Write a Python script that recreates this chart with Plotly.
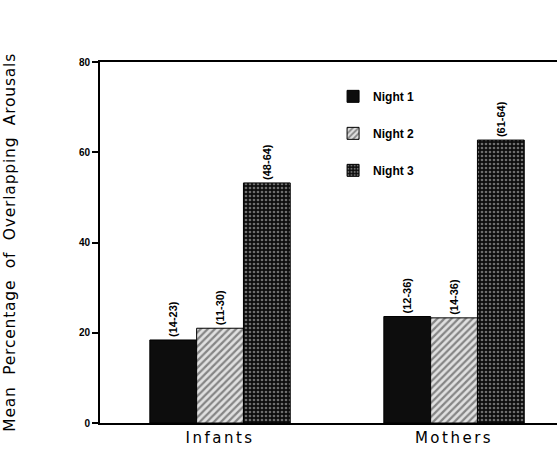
import plotly.graph_objects as go

categories = ["Infants", "Mothers"]
night1 = [18.4, 23.6]
night2 = [21.0, 23.3]
night3 = [53.2, 62.7]
range1 = ["(14-23)", "(12-36)"]
range2 = ["(11-30)", "(14-36)"]
range3 = ["(48-64)", "(61-64)"]
y_ticks = [0, 20, 40, 60, 80]

fig = go.Figure()
fig.add_trace(go.Bar(
    name="<b>Night 1</b>", x=categories, y=night1, text=range1,
    marker=dict(color="#0d0d0d", line=dict(color="black", width=1)),
    legendgroup="n1",
))
fig.add_trace(go.Bar(
    name="<b>Night 2</b>", x=categories, y=night2, text=range2,
    marker=dict(color="#d8d8d8", line=dict(color="black", width=1),
                pattern=dict(shape="/", fgcolor="#2a2a2a", bgcolor="#e0e0e0",
                             size=5, solidity=0.45)),
    legendgroup="n2",
))
fig.add_trace(go.Bar(
    name="<b>Night 3</b>", x=categories, y=night3, text=range3,
    marker=dict(color="#0d0d0d", line=dict(color="black", width=1),
                pattern=dict(shape=".", fgcolor="#cfcfcf", bgcolor="#0d0d0d",
                             size=4, solidity=0.35)),
    legendgroup="n3",
))
fig.update_traces(textposition="outside", textangle=-90, cliponaxis=False,
                  texttemplate="<b>%{text}</b>",
                  textfont=dict(family="Liberation Sans", size=11, color="black"))

fig.update_layout(
    width=557, height=461,
    margin=dict(l=100, r=0, t=62, b=38),
    paper_bgcolor="white", plot_bgcolor="white",
    barmode="group", bargap=0.4, bargroupgap=0,
    showlegend=True,
    legend=dict(x=0.51, y=0.945, xanchor="left", yanchor="top",
                bgcolor="rgba(0,0,0,0)", tracegroupgap=18,
                font=dict(family="Liberation Sans", size=12, color="black")),
    font=dict(family="Liberation Sans", color="black"),
)
fig.update_xaxes(
    range=[-0.513, 1.44], showline=True, linecolor="black", linewidth=2,
    mirror=True, ticks="", showgrid=False, zeroline=False,
    tickfont=dict(family="DejaVu Sans", size=15, color="black"),
)
fig.update_yaxes(
    range=[0, 80], tickvals=y_ticks, ticktext=[f"<b>{v}</b>" for v in y_ticks],
    showline=True, linecolor="black", linewidth=2, ticks="outside",
    ticklen=6, tickwidth=2, tickcolor="black", showgrid=False, zeroline=False,
    tickfont=dict(family="Liberation Sans", size=10, color="black"),
)
fig.add_annotation(
    text="Mean  Percentage  of  Overlapping  Arousals", textangle=-90,
    xref="paper", yref="paper", x=-0.199, y=0.5, xanchor="center", yanchor="middle",
    showarrow=False, font=dict(family="DejaVu Sans", size=15.5, color="black"),
)

post = """
document.body.style.margin='0';
var gd=document.getElementById('{plot_id}');
gd.querySelectorAll('.xtick text').forEach(function(t){t.style.letterSpacing='2.5px';});
gd.querySelectorAll('.annotation-text').forEach(function(t){t.style.letterSpacing='0.8px';});
"""
fig.write_html("out.html", post_script=post, config={"displayModeBar": False})
